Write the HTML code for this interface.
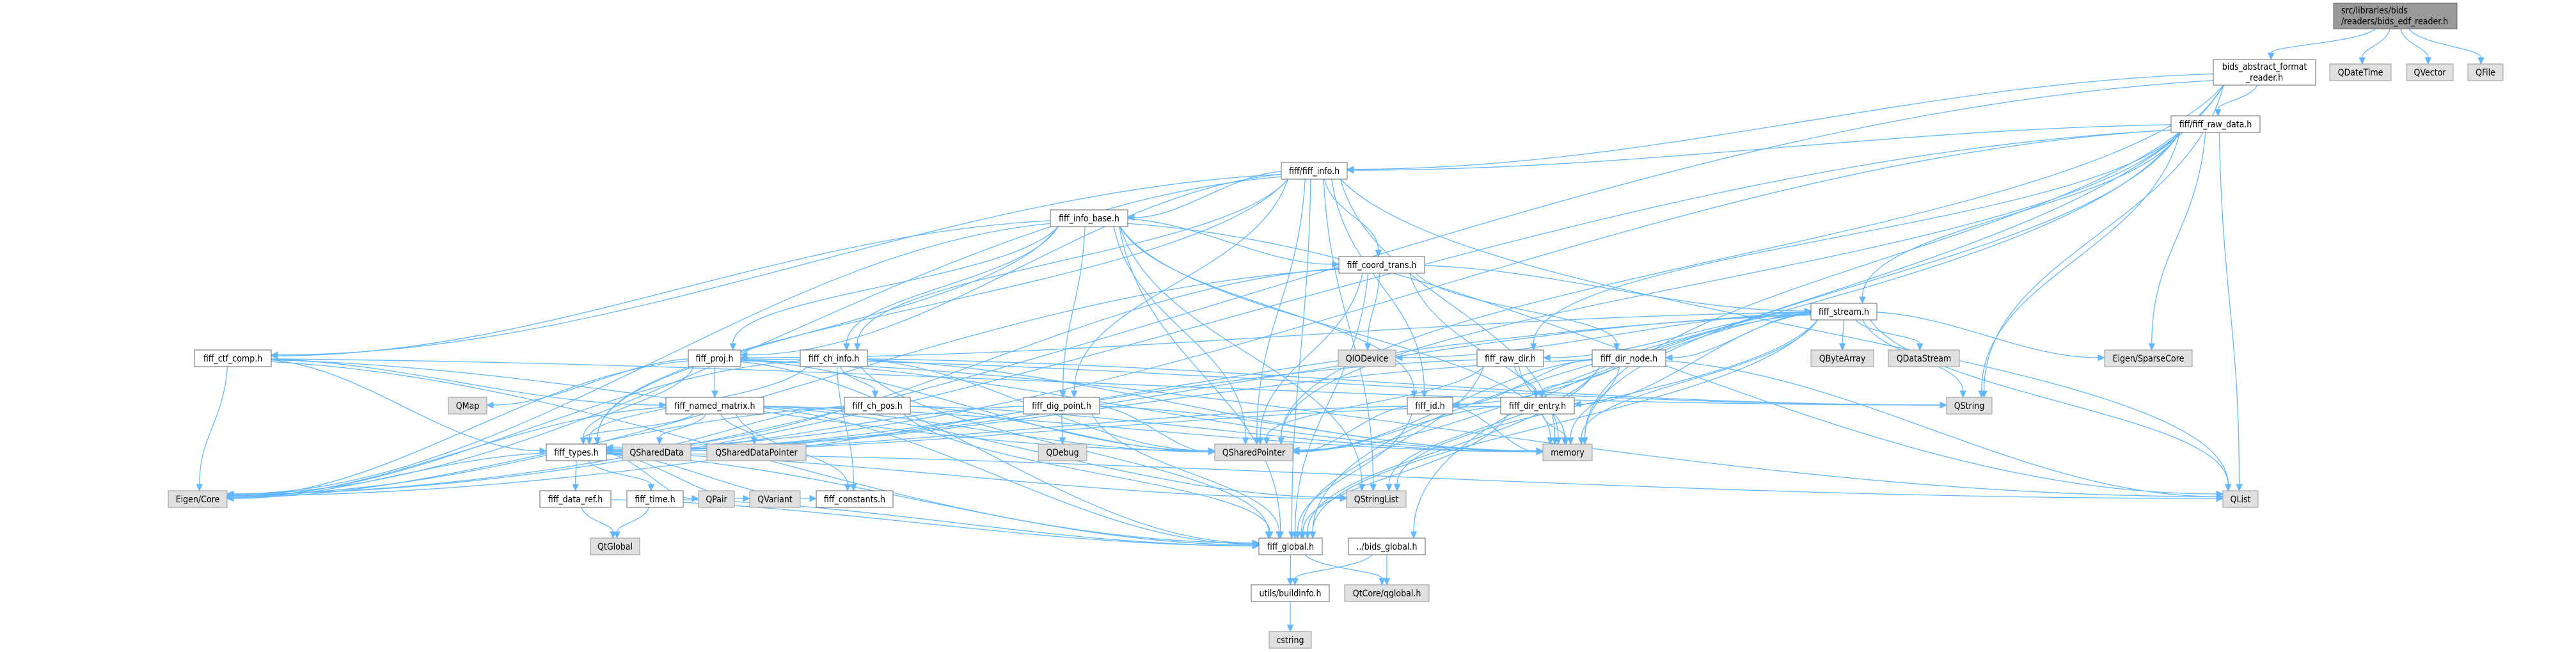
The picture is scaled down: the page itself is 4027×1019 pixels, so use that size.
<!DOCTYPE html>
<html><head><meta charset="utf-8">
<style>
html,body{margin:0;padding:0;background:#fff;}
svg{display:block;}
text{font-family:"DejaVu Sans Condensed","DejaVu Sans","Liberation Sans",sans-serif;font-size:14px;fill:#000;}
</style></head>
<body>
<svg id="s" xmlns="http://www.w3.org/2000/svg" width="4027" height="1019" viewBox="0 0 4027 1019">
<g id="edges" fill="none" stroke="#63b8ff" stroke-width="1.3"></g>
<g id="arrows" fill="#63b8ff" stroke="#63b8ff" stroke-width="1"></g>
<g id="nodes">
<rect x="3648" y="5" width="193" height="40" fill="#999999" stroke="#666666"/>
<text x="3660" y="21">src/libraries/bids</text><text x="3660" y="38">/readers/bids_edf_reader.h</text>
<rect x="3460" y="93" width="160" height="40" fill="#fff" stroke="#666666"/>
<text x="3540" y="109" text-anchor="middle">bids_abstract_format</text><text x="3540" y="126" text-anchor="middle">_reader.h</text>
</g>
</svg>
<script>
var W='w',G='g';
var N={
QDateTime:[3642,100,96],QVector:[3762,100,73],QFile:[3858,100,55],
raw_data:[3394,181,139],info:[2003,254,103],info_base:[1642,328,121],coord:[2093,401,134],stream:[2831,474,103],
ctf:[304,547,120],proj:[1076,547,82],ch_info:[1251,547,105],QIODevice:[2092,547,90],raw_dir:[2309,547,104],dir_node:[2489,547,115],
QByteArray:[2831,547,98],QDataStream:[2952,547,111],Sparse:[3290,547,137],
QMap:[701,621,60],named:[1041,621,153],ch_pos:[1320,621,103],dig:[1600,621,119],id:[2200,621,71],dir_entry:[2346,621,115],QString:[3043,621,71],
types:[854,694,94],QSharedData:[973,694,107],QSDP:[1105,694,155],QDebug:[1623,694,76],QSP:[1899,694,122],memory:[2412,694,77],
Core:[263,767,92],data_ref:[844,767,111],time:[980,767,88],QPair:[1092,767,56],QVariant:[1172,767,79],consts:[1276,767,120],QStringList:[2105,767,93],QList:[3475,767,55],
QtGlobal:[923,841,77],fglobal:[1968,841,99],bglobal:[2108,841,120],buildinfo:[1956,914,122],qglobal:[2102,914,132],cstring:[1984,987,66]
};
var B={top:[3648,5,193,40],abs:[3460,93,160,40]};
for(var k in N){B[k]=[N[k][0],N[k][1],N[k][2],26];}
var E=[
['top','abs'],['top','QDateTime'],['top','QVector'],['top','QFile'],
['abs','raw_data'],['abs','info'],['abs','Core'],['abs','QString'],['abs','QSP'],['abs','memory'],['abs','bglobal'],
['raw_data','info'],['raw_data','raw_dir'],['raw_data','stream'],['raw_data','fglobal'],['raw_data','QSP'],['raw_data','QList'],['raw_data','Core'],['raw_data','Sparse'],['raw_data','memory'],['raw_data','QString'],['raw_data','types'],
['info','info_base'],['info','coord'],['info','ch_info'],['info','dig'],['info','ctf'],['info','proj'],['info','id'],['info','types'],['info','fglobal'],['info','QSP'],['info','QList'],['info','QStringList'],['info','memory'],['info','Core'],
['info_base','coord'],['info_base','ch_info'],['info_base','id'],['info_base','types'],['info_base','proj'],['info_base','dig'],['info_base','ctf'],['info_base','fglobal'],['info_base','QSP'],['info_base','QStringList'],['info_base','QList'],['info_base','memory'],['info_base','Core'],
['coord','stream'],['coord','QIODevice'],['coord','dir_node'],['coord','types'],['coord','fglobal'],['coord','Core'],['coord','QSP'],['coord','memory'],
['stream','raw_dir'],['stream','dir_node'],['stream','id'],['stream','dir_entry'],['stream','types'],['stream','fglobal'],['stream','QByteArray'],['stream','QDataStream'],['stream','QIODevice'],['stream','QList'],['stream','QString'],['stream','QStringList'],['stream','QSP'],['stream','Core'],['stream','Sparse'],['stream','memory'],['stream','proj'],
['raw_dir','dir_entry'],['raw_dir','types'],['raw_dir','fglobal'],['raw_dir','QSP'],['raw_dir','memory'],
['dir_node','id'],['dir_node','dir_entry'],['dir_node','types'],['dir_node','fglobal'],['dir_node','QSP'],['dir_node','QStringList'],['dir_node','QList'],['dir_node','memory'],
['dir_entry','types'],['dir_entry','fglobal'],['dir_entry','QSP'],['dir_entry','memory'],
['id','types'],['id','fglobal'],['id','QSP'],['id','memory'],
['ctf','named'],['ctf','types'],['ctf','fglobal'],['ctf','Core'],['ctf','QSP'],['ctf','QString'],
['proj','named'],['proj','types'],['proj','fglobal'],['proj','Core'],['proj','QSP'],['proj','QMap'],['proj','QList'],['proj','QString'],['proj','memory'],
['ch_info','ch_pos'],['ch_info','types'],['ch_info','fglobal'],['ch_info','Core'],['ch_info','QSP'],['ch_info','QString'],['ch_info','consts'],['ch_info','memory'],
['named','types'],['named','fglobal'],['named','Core'],['named','QSharedData'],['named','QSDP'],['named','QSP'],['named','QStringList'],['named','consts'],['named','memory'],
['ch_pos','types'],['ch_pos','fglobal'],['ch_pos','Core'],['ch_pos','QSP'],['ch_pos','memory'],
['dig','types'],['dig','fglobal'],['dig','QDebug'],['dig','QSP'],['dig','memory'],
['types','Core'],['types','data_ref'],['types','time'],['types','QPair'],['types','QVariant'],['types','consts'],['types','QList'],['types','QStringList'],['types','fglobal'],
['data_ref','QtGlobal'],['time','QtGlobal'],['data_ref','fglobal'],['time','fglobal'],
['fglobal','buildinfo'],['fglobal','qglobal'],['bglobal','buildinfo'],['bglobal','qglobal'],['buildinfo','cstring']
];
var ns='http://www.w3.org/2000/svg';
var eg=document.getElementById('edges'),ag=document.getElementById('arrows');
function cl(v,a){return Math.max(-a,Math.min(a,v));}
E.forEach(function(e){
 var A=B[e[0]],T=B[e[1]];
 var acx=A[0]+A[2]/2,bcx=T[0]+T[2]/2,ay2=A[1]+A[3],by1=T[1];
 var dx=bcx-acx,dy=by1-ay2,sx,sy,ex,ey,c1x,c1y,c2x,c2y;
 if(dy>5 && Math.abs(dx)<3*dy+(A[2]+T[2])/2){
  sx=acx+cl(dx*0.15,A[2]*0.4);sy=ay2;
  ex=bcx+cl(-dx*0.05,T[2]*0.35);ey=by1;
  var k=Math.max(dy*0.45,15);
  c1x=sx+(ex-sx)*0.15;c1y=sy+k;c2x=ex;c2y=ey-k;
 } else {
  var r=dx>0;
  sx=r?A[0]+A[2]:A[0];sy=A[1]+A[3]/2+cl(dy*0.02,A[3]*0.35);
  ex=r?T[0]:T[0]+T[2];ey=T[1]+T[3]/2+cl(-dy*0.02,8);
  var h=(ex-sx);
  c1x=sx+h*0.35;c1y=sy+(ey-sy)*0.1;c2x=ex-h*0.35;c2y=ey;
 }
 var ux=ex-c2x,uy=ey-c2y,l=Math.sqrt(ux*ux+uy*uy)||1;ux/=l;uy/=l;
 var bx=ex-ux*10,by=ey-uy*10;
 var p=document.createElementNS(ns,'path');
 p.setAttribute('d','M'+sx+','+sy+' C'+c1x+','+c1y+' '+c2x+','+c2y+' '+bx+','+by);
 eg.appendChild(p);
 var q=document.createElementNS(ns,'polygon');
 q.setAttribute('points',ex+','+ey+' '+(bx-uy*4.5)+','+(by+ux*4.5)+' '+(bx+uy*4.5)+','+(by-ux*4.5));
 ag.appendChild(q);
});
</script>
<svg style="position:absolute;left:0;top:0" xmlns="http://www.w3.org/2000/svg" width="4027" height="1019">
<g font-family="DejaVu Sans Condensed, DejaVu Sans, Liberation Sans, sans-serif" font-size="14" text-anchor="middle">
<rect x="3642" y="100" width="96" height="26" fill="#e0e0e0" stroke="#999"/><text x="3690" y="118">QDateTime</text>
<rect x="3762" y="100" width="73" height="26" fill="#e0e0e0" stroke="#999"/><text x="3798.5" y="118">QVector</text>
<rect x="3858" y="100" width="55" height="26" fill="#e0e0e0" stroke="#999"/><text x="3885.5" y="118">QFile</text>
<rect x="3394" y="181" width="139" height="26" fill="#fff" stroke="#666"/><text x="3463.5" y="199">fiff/fiff_raw_data.h</text>
<rect x="2003" y="254" width="103" height="26" fill="#fff" stroke="#666"/><text x="2054.5" y="272">fiff/fiff_info.h</text>
<rect x="1642" y="328" width="121" height="26" fill="#fff" stroke="#666"/><text x="1702.5" y="346">fiff_info_base.h</text>
<rect x="2093" y="401" width="134" height="26" fill="#fff" stroke="#666"/><text x="2160" y="419">fiff_coord_trans.h</text>
<rect x="2831" y="474" width="103" height="26" fill="#fff" stroke="#666"/><text x="2882.5" y="492">fiff_stream.h</text>
<rect x="304" y="547" width="120" height="26" fill="#fff" stroke="#666"/><text x="364" y="565">fiff_ctf_comp.h</text>
<rect x="1076" y="547" width="82" height="26" fill="#fff" stroke="#666"/><text x="1117" y="565">fiff_proj.h</text>
<rect x="1251" y="547" width="105" height="26" fill="#fff" stroke="#666"/><text x="1303.5" y="565">fiff_ch_info.h</text>
<rect x="2092" y="547" width="90" height="26" fill="#e0e0e0" stroke="#999"/><text x="2137" y="565">QIODevice</text>
<rect x="2309" y="547" width="104" height="26" fill="#fff" stroke="#666"/><text x="2361" y="565">fiff_raw_dir.h</text>
<rect x="2489" y="547" width="115" height="26" fill="#fff" stroke="#666"/><text x="2546.5" y="565">fiff_dir_node.h</text>
<rect x="2831" y="547" width="98" height="26" fill="#e0e0e0" stroke="#999"/><text x="2880" y="565">QByteArray</text>
<rect x="2952" y="547" width="111" height="26" fill="#e0e0e0" stroke="#999"/><text x="3007.5" y="565">QDataStream</text>
<rect x="3290" y="547" width="137" height="26" fill="#e0e0e0" stroke="#999"/><text x="3358.5" y="565">Eigen/SparseCore</text>
<rect x="701" y="621" width="60" height="26" fill="#e0e0e0" stroke="#999"/><text x="731" y="639">QMap</text>
<rect x="1041" y="621" width="153" height="26" fill="#fff" stroke="#666"/><text x="1117.5" y="639">fiff_named_matrix.h</text>
<rect x="1320" y="621" width="103" height="26" fill="#fff" stroke="#666"/><text x="1371.5" y="639">fiff_ch_pos.h</text>
<rect x="1600" y="621" width="119" height="26" fill="#fff" stroke="#666"/><text x="1659.5" y="639">fiff_dig_point.h</text>
<rect x="2200" y="621" width="71" height="26" fill="#fff" stroke="#666"/><text x="2235.5" y="639">fiff_id.h</text>
<rect x="2346" y="621" width="115" height="26" fill="#fff" stroke="#666"/><text x="2403.5" y="639">fiff_dir_entry.h</text>
<rect x="3043" y="621" width="71" height="26" fill="#e0e0e0" stroke="#999"/><text x="3078.5" y="639">QString</text>
<rect x="854" y="694" width="94" height="26" fill="#fff" stroke="#666"/><text x="901" y="712">fiff_types.h</text>
<rect x="973" y="694" width="107" height="26" fill="#e0e0e0" stroke="#999"/><text x="1026.5" y="712">QSharedData</text>
<rect x="1105" y="694" width="155" height="26" fill="#e0e0e0" stroke="#999"/><text x="1182.5" y="712">QSharedDataPointer</text>
<rect x="1623" y="694" width="76" height="26" fill="#e0e0e0" stroke="#999"/><text x="1661" y="712">QDebug</text>
<rect x="1899" y="694" width="122" height="26" fill="#e0e0e0" stroke="#999"/><text x="1960" y="712">QSharedPointer</text>
<rect x="2412" y="694" width="77" height="26" fill="#e0e0e0" stroke="#999"/><text x="2450.5" y="712">memory</text>
<rect x="263" y="767" width="92" height="26" fill="#e0e0e0" stroke="#999"/><text x="309" y="785">Eigen/Core</text>
<rect x="844" y="767" width="111" height="26" fill="#fff" stroke="#666"/><text x="899.5" y="785">fiff_data_ref.h</text>
<rect x="980" y="767" width="88" height="26" fill="#fff" stroke="#666"/><text x="1024" y="785">fiff_time.h</text>
<rect x="1092" y="767" width="56" height="26" fill="#e0e0e0" stroke="#999"/><text x="1120" y="785">QPair</text>
<rect x="1172" y="767" width="79" height="26" fill="#e0e0e0" stroke="#999"/><text x="1211.5" y="785">QVariant</text>
<rect x="1276" y="767" width="120" height="26" fill="#fff" stroke="#666"/><text x="1336" y="785">fiff_constants.h</text>
<rect x="2105" y="767" width="93" height="26" fill="#e0e0e0" stroke="#999"/><text x="2151.5" y="785">QStringList</text>
<rect x="3475" y="767" width="55" height="26" fill="#e0e0e0" stroke="#999"/><text x="3502.5" y="785">QList</text>
<rect x="923" y="841" width="77" height="26" fill="#e0e0e0" stroke="#999"/><text x="961.5" y="859">QtGlobal</text>
<rect x="1968" y="841" width="99" height="26" fill="#fff" stroke="#666"/><text x="2017.5" y="859">fiff_global.h</text>
<rect x="2108" y="841" width="120" height="26" fill="#fff" stroke="#666"/><text x="2168" y="859">../bids_global.h</text>
<rect x="1956" y="914" width="122" height="26" fill="#fff" stroke="#666"/><text x="2017" y="932">utils/buildinfo.h</text>
<rect x="2102" y="914" width="132" height="26" fill="#e0e0e0" stroke="#999"/><text x="2168" y="932">QtCore/qglobal.h</text>
<rect x="1984" y="987" width="66" height="26" fill="#e0e0e0" stroke="#999"/><text x="2017" y="1005">cstring</text>
</g>
</svg>
</body></html>
